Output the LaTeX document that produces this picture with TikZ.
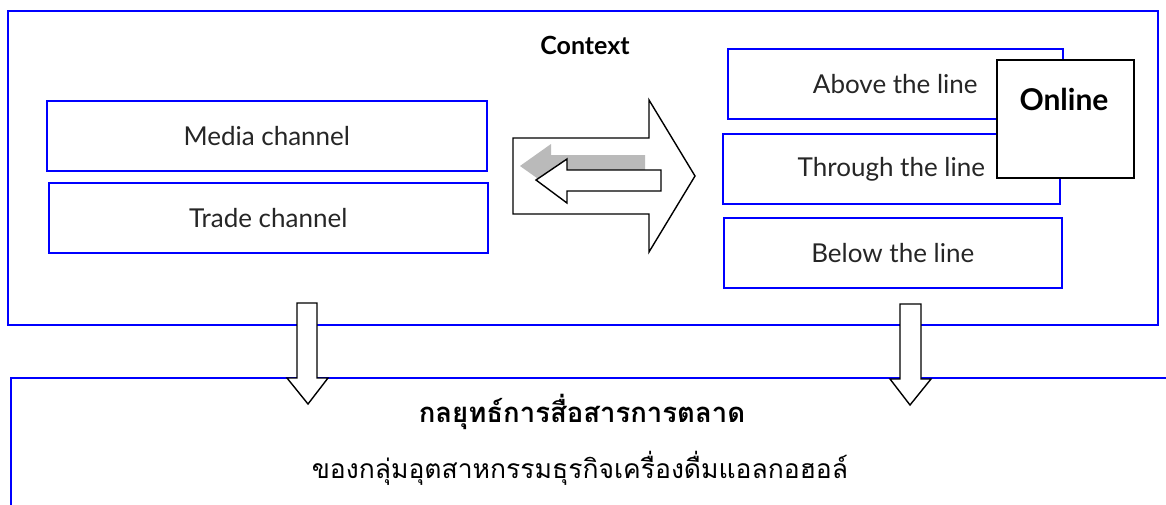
\documentclass[tikz,border=0pt]{standalone}
\usepackage{fontspec}
\setmainfont{Lato}
\newfontfamily\thaifont[Script=Thai]{Loma}
\begin{document}
\begin{tikzpicture}[x=1pt,y=-1pt,
  bluebox/.style={draw=blue, line width=1.6pt, fill=white, inner sep=0pt, anchor=north west},
  blackbox/.style={draw=black, line width=1.6pt, fill=white, inner sep=0pt, anchor=north west},
  blockarrow/.style={draw=black, line width=1.4pt, fill=white, line join=miter},
  label/.style={font=\fontsize{26}{30}\selectfont, text=black!85},
  thaitext/.style={font=\thaifont\fontsize{26.5}{30}\selectfont}]
\useasboundingbox (0,0) rectangle (1166,504);

% outer context frame and its caption
\node[bluebox, minimum width=1150pt, minimum height=314pt] (ctx) at (7,10) {};
\node[font=\bfseries\fontsize{25}{28}\selectfont] (ctxlabel) at (585,45) {Context};

% channel boxes on the left
\node[bluebox, minimum width=440pt, minimum height=70pt, label] (media) at (46,100) {Media channel};
\node[bluebox, minimum width=439pt, minimum height=70pt, label] (trade) at (48,182) {Trade channel};

% promotion levels on the right
\node[bluebox, minimum width=335pt, minimum height=70pt, label] (atl) at (727,48) {Above the line};
\node[bluebox, minimum width=337pt, minimum height=70pt, label] (ttl) at (722,133) {Through the line};
\node[bluebox, minimum width=338pt, minimum height=70pt, label] (btl) at (723,217) {Below the line};

% online overlay
\node[blackbox, minimum width=137pt, minimum height=118pt] (online) at (996,59) {};
\node[font=\bfseries\fontsize{30}{34}\selectfont, anchor=center] (onlinelabel) at (1064,99) {Online};

% two-way exchange arrows between the columns
\draw[blockarrow] (513,138) -- (649,138) -- (649,100) -- (695,176) -- (649,252) -- (649,214) -- (513,214) -- cycle;
\fill[black!27] (520,166) -- (551,144) -- (551,155) -- (645,155) -- (645,176) -- (551,176) -- (551,188) -- cycle;
\draw[blockarrow] (536,180) -- (567,159) -- (567,170) -- (661,170) -- (661,191) -- (567,191) -- (567,203) -- cycle;

% strategy frame at the bottom
\node[bluebox, minimum width=1170pt, minimum height=200pt] (strategy) at (10,377) {};
\node[font=\thaifont\bfseries\fontsize{27.5}{30}\selectfont] (title) at (582,412) {กลยุทธ์การสื่อสารการตลาด};
\node[thaitext] (subtitle) at (580,468) {ของกลุ่มอุตสาหกรรมธุรกิจเครื่องดื่มแอลกอฮอล์};

% flow arrows from context down to the strategy
\draw[blockarrow] (297,303) -- (317,303) -- (317,378) -- (328,378) -- (308,404) -- (287,378) -- (297,378) -- cycle;
\draw[blockarrow] (900,304) -- (921,304) -- (921,379) -- (931,379) -- (910,405) -- (890,379) -- (900,379) -- cycle;
\end{tikzpicture}
\end{document}
